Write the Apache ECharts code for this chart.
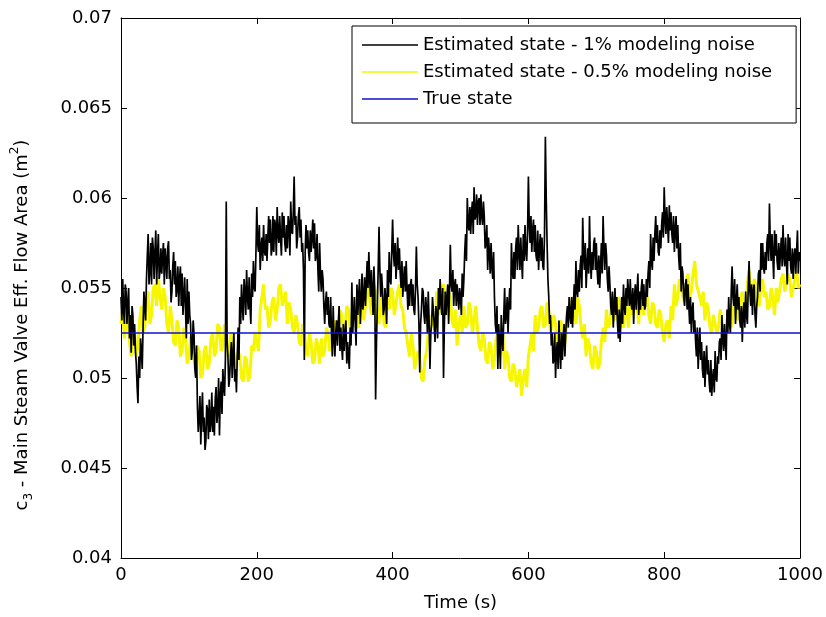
<!DOCTYPE html>
<html>
<head>
<meta charset="utf-8">
<script src="https://cdn.jsdelivr.net/npm/echarts/dist/echarts.min.js"></script>
<style>
html,body{margin:0;padding:0;background:#fff;}
#chart{width:826px;height:617px;}
</style>
</head>
<body>
<div id="chart"></div>
<script>
// ---- data ----
// 1% noise estimate: one sample every 1.25 s; 0.5% noise estimate: one sample every 2.5 s (0 s to 1000 s)
const sampleStart = 0;
const step1pct = 1.25;
const stepHalfPct = 2.5;

const estimated1pct = [
0.0545,0.0532,0.0555,0.0538,0.0530,0.0552,0.0548,0.0530,0.0542,0.0550,0.0522,0.0535,0.0514,0.0540,0.0535,0.0518,0.0530,0.0515,0.0508,0.0495,
0.0486,0.0512,0.0500,0.0522,0.0515,0.0505,0.0528,0.0548,0.0540,0.0532,0.0555,0.0568,0.0580,0.0552,0.0560,0.0575,0.0552,0.0578,0.0572,0.0555,
0.0570,0.0582,0.0552,0.0568,0.0580,0.0555,0.0560,0.0572,0.0558,0.0568,0.0575,0.0552,0.0572,0.0565,0.0555,0.0572,0.0576,0.0555,0.0560,0.0542,
0.0548,0.0562,0.0570,0.0552,0.0565,0.0545,0.0550,0.0562,0.0540,0.0555,0.0562,0.0540,0.0558,0.0535,0.0545,0.0556,0.0538,0.0522,0.0555,0.0530,
0.0548,0.0535,0.0530,0.0510,0.0515,0.0532,0.0525,0.0505,0.0500,0.0518,0.0485,0.0470,0.0478,0.0490,0.0463,0.0480,0.0492,0.0470,0.0478,0.0460,
0.0465,0.0485,0.0482,0.0466,0.0488,0.0470,0.0475,0.0492,0.0470,0.0484,0.0468,0.0488,0.0495,0.0475,0.0482,0.0500,0.0468,0.0490,0.0498,0.0480,
0.0505,0.0495,0.0490,0.0510,0.0598,0.0520,0.0512,0.0495,0.0500,0.0512,0.0520,0.0500,0.0512,0.0525,0.0498,0.0505,0.0492,0.0512,0.0528,0.0510,
0.0545,0.0530,0.0552,0.0540,0.0532,0.0555,0.0548,0.0535,0.0560,0.0545,0.0538,0.0556,0.0540,0.0530,0.0558,0.0545,0.0565,0.0550,0.0548,0.0570,
0.0595,0.0575,0.0570,0.0585,0.0560,0.0572,0.0578,0.0565,0.0585,0.0570,0.0568,0.0580,0.0565,0.0578,0.0590,0.0575,0.0588,0.0568,0.0572,0.0590,
0.0570,0.0588,0.0585,0.0568,0.0595,0.0580,0.0575,0.0590,0.0578,0.0568,0.0592,0.0578,0.0590,0.0575,0.0570,0.0585,0.0572,0.0590,0.0585,0.0568,
0.0598,0.0582,0.0580,0.0592,0.0612,0.0585,0.0590,0.0572,0.0578,0.0590,0.0595,0.0578,0.0588,0.0570,0.0575,0.0560,0.0510,0.0570,0.0585,0.0572,
0.0582,0.0570,0.0565,0.0582,0.0570,0.0578,0.0588,0.0572,0.0586,0.0565,0.0568,0.0580,0.0560,0.0548,0.0575,0.0558,0.0548,0.0560,0.0555,0.0540,
0.0530,0.0542,0.0548,0.0535,0.0545,0.0530,0.0528,0.0545,0.0525,0.0512,0.0540,0.0522,0.0512,0.0525,0.0532,0.0518,0.0530,0.0540,0.0515,0.0528,
0.0518,0.0510,0.0530,0.0515,0.0525,0.0532,0.0508,0.0520,0.0512,0.0505,0.0528,0.0518,0.0553,0.0525,0.0535,0.0545,0.0530,0.0518,0.0552,0.0535,
0.0545,0.0555,0.0530,0.0542,0.0558,0.0538,0.0545,0.0556,0.0540,0.0552,0.0565,0.0550,0.0570,0.0555,0.0545,0.0560,0.0548,0.0535,0.0562,0.0548,
0.0488,0.0520,0.0540,0.0560,0.0584,0.0560,0.0545,0.0558,0.0550,0.0535,0.0538,0.0550,0.0542,0.0530,0.0560,0.0545,0.0570,0.0555,0.0552,0.0570,
0.0588,0.0570,0.0562,0.0575,0.0555,0.0565,0.0578,0.0560,0.0572,0.0558,0.0550,0.0565,0.0545,0.0555,0.0562,0.0548,0.0565,0.0550,0.0538,0.0552,
0.0540,0.0552,0.0555,0.0540,0.0552,0.0538,0.0535,0.0550,0.0573,0.0552,0.0545,0.0530,0.0503,0.0530,0.0538,0.0550,0.0548,0.0535,0.0530,0.0545,
0.0538,0.0525,0.0548,0.0532,0.0505,0.0525,0.0530,0.0545,0.0545,0.0530,0.0520,0.0540,0.0535,0.0522,0.0550,0.0538,0.0555,0.0542,0.0535,0.0550,
0.0500,0.0530,0.0548,0.0535,0.0545,0.0552,0.0530,0.0548,0.0574,0.0552,0.0548,0.0560,0.0540,0.0552,0.0555,0.0540,0.0552,0.0545,0.0538,0.0550,
0.0545,0.0535,0.0558,0.0545,0.0555,0.0570,0.0580,0.0565,0.0600,0.0585,0.0582,0.0595,0.0580,0.0592,0.0598,0.0580,0.0606,0.0588,0.0590,0.0602,
0.0585,0.0598,0.0600,0.0585,0.0602,0.0590,0.0585,0.0598,0.0590,0.0572,0.0575,0.0585,0.0560,0.0578,0.0570,0.0558,0.0575,0.0562,0.0555,0.0570,
0.0545,0.0530,0.0525,0.0540,0.0505,0.0530,0.0520,0.0505,0.0535,0.0522,0.0515,0.0535,0.0550,0.0530,0.0535,0.0545,0.0525,0.0540,0.0550,0.0538,
0.0575,0.0560,0.0555,0.0570,0.0555,0.0572,0.0578,0.0560,0.0585,0.0570,0.0560,0.0578,0.0565,0.0555,0.0580,0.0565,0.0585,0.0570,0.0565,0.0580,
0.0612,0.0585,0.0575,0.0590,0.0570,0.0582,0.0588,0.0570,0.0585,0.0568,0.0565,0.0582,0.0560,0.0572,0.0580,0.0565,0.0578,0.0562,0.0560,0.0580,
0.0634,0.0600,0.0575,0.0555,0.0545,0.0530,0.0535,0.0518,0.0525,0.0508,0.0510,0.0525,0.0500,0.0515,0.0520,0.0505,0.0532,0.0515,0.0505,0.0525,
0.0510,0.0522,0.0530,0.0512,0.0525,0.0535,0.0540,0.0528,0.0545,0.0535,0.0530,0.0545,0.0528,0.0540,0.0552,0.0538,0.0565,0.0548,0.0545,0.0560,
0.0548,0.0562,0.0568,0.0550,0.0589,0.0568,0.0560,0.0575,0.0550,0.0562,0.0572,0.0558,0.0590,0.0565,0.0555,0.0570,0.0560,0.0575,0.0578,0.0560,
0.0575,0.0560,0.0552,0.0568,0.0550,0.0562,0.0575,0.0558,0.0590,0.0572,0.0560,0.0575,0.0568,0.0555,0.0548,0.0562,0.0552,0.0540,0.0535,0.0548,
0.0528,0.0540,0.0550,0.0535,0.0545,0.0530,0.0522,0.0538,0.0520,0.0532,0.0545,0.0530,0.0552,0.0540,0.0535,0.0550,0.0540,0.0555,0.0556,0.0540,
0.0555,0.0542,0.0538,0.0550,0.0530,0.0545,0.0552,0.0538,0.0548,0.0558,0.0535,0.0548,0.0538,0.0550,0.0555,0.0540,0.0552,0.0538,0.0540,0.0555,
0.0545,0.0558,0.0565,0.0550,0.0580,0.0565,0.0560,0.0578,0.0565,0.0580,0.0590,0.0575,0.0585,0.0570,0.0568,0.0582,0.0572,0.0585,0.0592,0.0578,
0.0606,0.0588,0.0580,0.0595,0.0585,0.0575,0.0596,0.0582,0.0592,0.0580,0.0575,0.0590,0.0570,0.0582,0.0590,0.0572,0.0585,0.0568,0.0560,0.0575,
0.0548,0.0562,0.0558,0.0545,0.0540,0.0552,0.0555,0.0538,0.0552,0.0540,0.0530,0.0545,0.0525,0.0538,0.0542,0.0525,0.0532,0.0520,0.0512,0.0528,
0.0505,0.0518,0.0528,0.0510,0.0520,0.0505,0.0500,0.0515,0.0495,0.0508,0.0518,0.0502,0.0510,0.0498,0.0492,0.0510,0.0490,0.0500,0.0505,0.0492,
0.0515,0.0500,0.0498,0.0512,0.0508,0.0520,0.0522,0.0510,0.0535,0.0522,0.0515,0.0530,0.0520,0.0510,0.0538,0.0525,0.0545,0.0530,0.0525,0.0548,
0.0562,0.0545,0.0540,0.0555,0.0530,0.0542,0.0552,0.0538,0.0545,0.0532,0.0528,0.0540,0.0520,0.0535,0.0542,0.0528,0.0548,0.0535,0.0530,0.0550,
0.0565,0.0548,0.0540,0.0552,0.0535,0.0548,0.0552,0.0535,0.0528,0.0540,0.0545,0.0558,0.0560,0.0548,0.0575,0.0560,0.0575,0.0562,0.0558,0.0570,
0.0560,0.0575,0.0580,0.0565,0.0597,0.0575,0.0565,0.0580,0.0568,0.0555,0.0582,0.0568,0.0580,0.0565,0.0560,0.0575,0.0560,0.0570,0.0578,0.0562,
0.0585,0.0568,0.0562,0.0578,0.0565,0.0552,0.0580,0.0565,0.0578,0.0562,0.0558,0.0572,0.0555,0.0568,0.0572,0.0558,0.0570,0.0582,0.0558,0.0570,
0.0565];

const estimatedHalfPct = [
0.0530,0.0538,0.0522,0.0530,0.0535,0.0520,0.0512,0.0528,0.0525,0.0512,
0.0518,0.0532,0.0540,0.0525,0.0528,0.0542,0.0548,0.0530,0.0535,0.0550,
0.0552,0.0540,0.0556,0.0545,0.0538,0.0550,0.0545,0.0530,0.0525,0.0540,
0.0532,0.0520,0.0518,0.0532,0.0528,0.0512,0.0515,0.0528,0.0522,0.0508,
0.0512,0.0522,0.0525,0.0510,0.0505,0.0518,0.0515,0.0500,0.0502,0.0515,
0.0518,0.0505,0.0508,0.0522,0.0525,0.0512,0.0515,0.0530,0.0528,0.0515,
0.0518,0.0530,0.0525,0.0512,0.0512,0.0525,0.0520,0.0505,0.0505,0.0515,
0.0512,0.0500,0.0498,0.0512,0.0510,0.0498,0.0502,0.0518,0.0515,0.0525,
0.0525,0.0515,0.0538,0.0545,0.0552,0.0538,0.0540,0.0528,0.0532,0.0542,
0.0545,0.0532,0.0538,0.0550,0.0552,0.0540,0.0540,0.0548,0.0530,0.0542,
0.0538,0.0528,0.0525,0.0535,0.0530,0.0520,0.0518,0.0530,0.0525,0.0515,
0.0512,0.0525,0.0520,0.0508,0.0510,0.0522,0.0518,0.0508,0.0522,0.0512,
0.0515,0.0528,0.0525,0.0515,0.0518,0.0530,0.0532,0.0522,0.0525,0.0538,
0.0535,0.0525,0.0528,0.0540,0.0538,0.0528,0.0530,0.0545,0.0540,0.0530,
0.0528,0.0540,0.0545,0.0532,0.0532,0.0548,0.0550,0.0538,0.0535,0.0552,
0.0548,0.0535,0.0530,0.0545,0.0542,0.0530,0.0528,0.0545,0.0538,0.0550,
0.0548,0.0535,0.0535,0.0548,0.0552,0.0540,0.0538,0.0528,0.0525,0.0518,
0.0512,0.0525,0.0518,0.0505,0.0505,0.0515,0.0512,0.0500,0.0498,0.0510,
0.0515,0.0525,0.0522,0.0535,0.0532,0.0525,0.0548,0.0535,0.0538,0.0550,
0.0552,0.0540,0.0535,0.0548,0.0545,0.0532,0.0528,0.0538,0.0518,0.0530,
0.0535,0.0525,0.0540,0.0528,0.0530,0.0542,0.0538,0.0525,0.0532,0.0540,
0.0528,0.0518,0.0515,0.0525,0.0522,0.0510,0.0508,0.0520,0.0518,0.0505,
0.0510,0.0522,0.0525,0.0512,0.0515,0.0525,0.0505,0.0515,0.0512,0.0500,
0.0498,0.0508,0.0505,0.0495,0.0495,0.0505,0.0490,0.0500,0.0505,0.0495,
0.0512,0.0518,0.0525,0.0515,0.0535,0.0525,0.0528,0.0538,0.0540,0.0528,
0.0530,0.0542,0.0538,0.0525,0.0525,0.0535,0.0530,0.0518,0.0520,0.0532,
0.0528,0.0518,0.0522,0.0535,0.0532,0.0540,0.0545,0.0535,0.0530,0.0545,
0.0540,0.0528,0.0522,0.0530,0.0512,0.0522,0.0518,0.0508,0.0505,0.0518,
0.0515,0.0505,0.0508,0.0520,0.0528,0.0520,0.0538,0.0528,0.0530,0.0542,
0.0545,0.0532,0.0535,0.0545,0.0542,0.0530,0.0528,0.0540,0.0538,0.0528,
0.0545,0.0535,0.0535,0.0548,0.0540,0.0530,0.0548,0.0538,0.0535,0.0548,
0.0545,0.0535,0.0530,0.0542,0.0540,0.0530,0.0528,0.0538,0.0535,0.0525,
0.0520,0.0530,0.0532,0.0522,0.0540,0.0532,0.0552,0.0540,0.0545,0.0555,
0.0555,0.0545,0.0542,0.0552,0.0558,0.0545,0.0548,0.0558,0.0565,0.0552,
0.0552,0.0545,0.0540,0.0548,0.0532,0.0542,0.0538,0.0528,0.0525,0.0535,
0.0535,0.0525,0.0528,0.0538,0.0532,0.0522,0.0525,0.0532,0.0538,0.0528,
0.0530,0.0540,0.0542,0.0532,0.0535,0.0545,0.0548,0.0538,0.0540,0.0552,
0.0560,0.0548,0.0545,0.0555,0.0552,0.0542,0.0540,0.0550,0.0555,0.0545,
0.0548,0.0538,0.0540,0.0550,0.0545,0.0535,0.0550,0.0542,0.0542,0.0555,
0.0558,0.0548,0.0548,0.0558,0.0555,0.0545,0.0545,0.0555,0.0560,0.0550,
0.0552];

const trueStateValue = 0.0525;
const trueStateTimes = [0, 1000];

const seriesNames = [
  'Estimated state - 1% modeling noise',
  'Estimated state - 0.5% modeling noise',
  'True state'
];
const xTicks = {min: 0, max: 1000, interval: 200};
const yTicks = {min: 0.04, max: 0.07, interval: 0.005};

// ---- chart ----
const FONT = 'DejaVu Sans';
const chart = echarts.init(document.getElementById('chart'), null, {renderer: 'canvas'});

const toPairs = (vals, step) => vals.map((v, i) => [sampleStart + i * step, v]);

const axisCommon = {
  axisLine: {show: true, onZero: false, lineStyle: {color: '#000', width: 1}},
  axisTick: {show: true, inside: true, length: 6, lineStyle: {color: '#000'}},
  splitLine: {show: false}
};

const option = {
  backgroundColor: '#fff',
  animation: false,
  textStyle: {fontFamily: FONT},
  grid: {left: 121, right: 26, top: 18, bottom: 59, containLabel: false},
  legend: {
    data: seriesNames.map(n => ({name: n, icon: 'rect'})),
    orient: 'vertical',
    left: 352,
    top: 26,
    itemWidth: 56,
    itemHeight: 1.6,
    itemGap: 9,
    padding: [10, 24, 15, 10],
    backgroundColor: '#fff',
    borderColor: '#000',
    borderWidth: 1,
    selectedMode: false,
    textStyle: {fontFamily: FONT, fontSize: 18, color: '#000', lineHeight: 18}
  },
  xAxis: [
    Object.assign({}, axisCommon, {
      type: 'value', position: 'bottom',
      min: xTicks.min, max: xTicks.max, interval: xTicks.interval,
      name: 'Time (s)', nameLocation: 'middle', nameGap: 36,
      nameTextStyle: {fontFamily: FONT, fontSize: 18, color: '#000'},
      axisLabel: {fontFamily: FONT, fontSize: 18, color: '#000', margin: 8,
        formatter: v => String(v)}
    }),
    Object.assign({}, axisCommon, {
      type: 'value', position: 'top',
      min: xTicks.min, max: xTicks.max, interval: xTicks.interval,
      axisLabel: {show: false}
    })
  ],
  yAxis: [
    Object.assign({}, axisCommon, {
      type: 'value', position: 'left',
      min: yTicks.min, max: yTicks.max, interval: yTicks.interval,
      name: '{n|c}{sub|3}{n| - Main Steam Valve Eff. Flow Area (m}{sup|2}{n|)}',
      nameLocation: 'middle', nameGap: 86, nameRotate: 90,
      nameTextStyle: {
        fontFamily: FONT, fontSize: 18, color: '#000',
        padding: [0, 74, 0, 0],
        rich: {
          n: {fontFamily: FONT, fontSize: 18, color: '#000', lineHeight: 26, verticalAlign: 'middle'},
          sub: {fontFamily: FONT, fontSize: 12, color: '#000', lineHeight: 26, verticalAlign: 'bottom'},
          sup: {fontFamily: FONT, fontSize: 12, color: '#000', lineHeight: 26, verticalAlign: 'top'}
        }
      },
      axisLabel: {
        fontFamily: FONT, fontSize: 18, color: '#000', margin: 9,
        formatter: v => String(+v.toFixed(3))
      }
    }),
    Object.assign({}, axisCommon, {
      type: 'value', position: 'right',
      min: yTicks.min, max: yTicks.max, interval: yTicks.interval,
      axisLabel: {show: false}
    })
  ],
  series: [
    {
      name: seriesNames[1], type: 'line', xAxisIndex: 0, yAxisIndex: 0,
      symbol: 'none', z: 2,
      lineStyle: {color: '#f6f600', width: 3},
      itemStyle: {color: '#f6f600'},
      data: toPairs(estimatedHalfPct, stepHalfPct)
    },
    {
      name: seriesNames[0], type: 'line', xAxisIndex: 0, yAxisIndex: 0,
      symbol: 'none', z: 3,
      lineStyle: {color: '#000000', width: 1.7},
      itemStyle: {color: '#000000'},
      data: toPairs(estimated1pct, step1pct)
    },
    {
      name: seriesNames[2], type: 'line', xAxisIndex: 0, yAxisIndex: 0,
      symbol: 'none', z: 4,
      lineStyle: {color: '#1010d0', width: 1.3},
      itemStyle: {color: '#1010d0'},
      data: trueStateTimes.map(t => [t, trueStateValue])
    }
  ]
};
chart.setOption(option);
</script>
</body>
</html>
